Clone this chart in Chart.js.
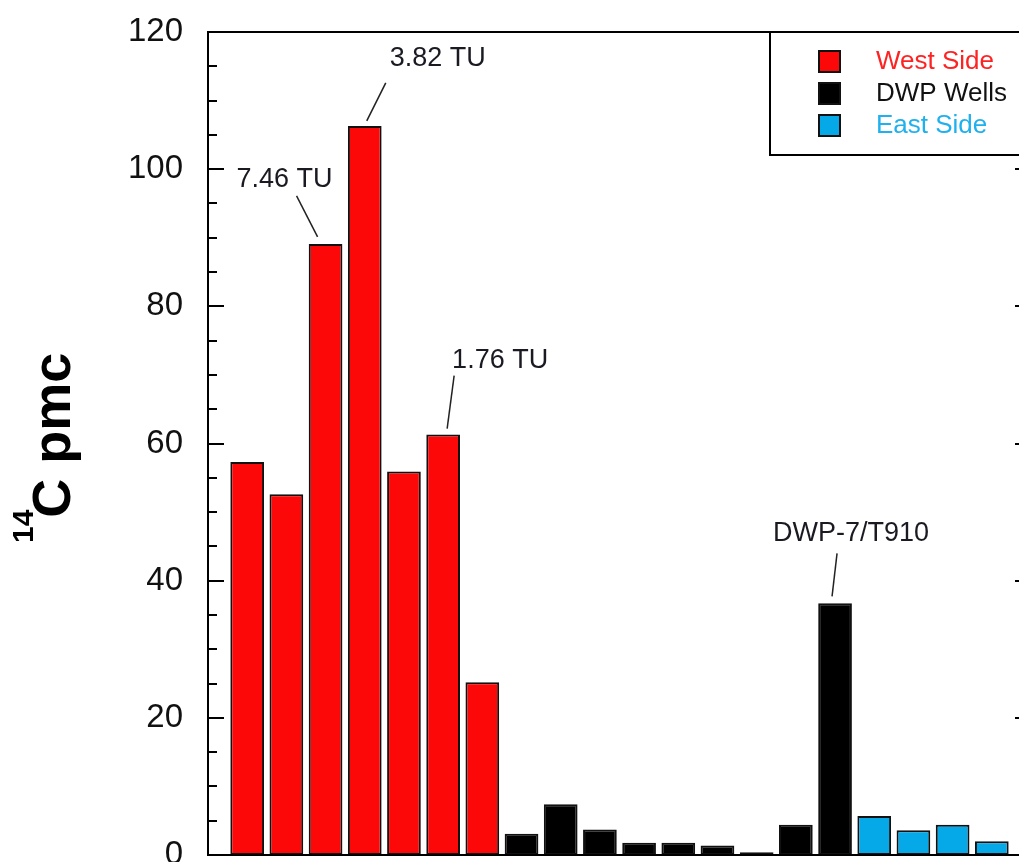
<!DOCTYPE html>
<html>
<head>
<meta charset="utf-8">
<script src="https://cdn.jsdelivr.net/npm/chart.js@4.4.1/dist/chart.umd.min.js"></script>
<style>
  html, body { margin: 0; padding: 0; background: #fff; overflow: hidden; }
  canvas { display: block; }
</style>
</head>
<body>
<canvas id="pmcChart" width="1040" height="862"></canvas>
<script>
// Datos (14C en pmc)
const westSide = [57.3, 52.6, 89.1, 106.3, 55.9, 61.3, 25.2];
const dwpWells = [3.1, 7.4, 3.7, 1.8, 1.8, 1.4, 0.4, 4.4, 36.7];
const eastSide = [5.7, 3.6, 4.4, 2.0];

const groupNames = ["West Side", "DWP Wells", "East Side"];
const yTicks = [0, 20, 40, 60, 80, 100, 120];

// Anotaciones: texto, grupo y posición dentro del grupo
const callouts = [
  { text: "7.46 TU", group: 0, index: 2 },
  { text: "3.82 TU", group: 0, index: 3 },
  { text: "1.76 TU", group: 0, index: 5 },
  { text: "DWP-7/T910", group: 1, index: 8 }
];

const FONT = '"Liberation Sans", Arial, sans-serif';
const colors = ["#fc0808", "#000000", "#05a9e8"];
const legendTextColors = ["#ff2222", "#111111", "#1fb0ee"];

// Desplazamientos de las etiquetas respecto a la parte superior de la barra
const calloutLayout = {
  "7.46 TU": { line: [-8, -7, -29, -48], label: [-41, -64] },
  "3.82 TU": { line: [2, -5, 21, -43], label: [73, -67] },
  "1.76 TU": { line: [4, -6, 11, -59], label: [57, -74] },
  "DWP-7/T910": { line: [-3, -7, 2, -50], label: [16, -70] }
};

// Categorías: un hueco al inicio y al final para centrar las barras
const groups = [westSide, dwpWells, eastSide];
const labels = [""];
groups.forEach((g, gi) => g.forEach((_, i) => labels.push(groupNames[gi] + " " + (i + 1))));
labels.push("");

function padIndex(gi, i) {
  let offset = 1;
  for (let k = 0; k < gi; k++) offset += groups[k].length;
  return offset + i;
}

function padSeries(gi) {
  const out = new Array(labels.length).fill(null);
  groups[gi].forEach((v, i) => { out[padIndex(gi, i)] = v; });
  return out;
}

const framePlugin = {
  id: "frame",
  afterDraw(chart) {
    const ctx = chart.ctx;
    const a = chart.chartArea;
    const y = chart.scales.y;
    ctx.save();
    ctx.strokeStyle = "#000";
    ctx.lineWidth = 2;
    ctx.strokeRect(a.left, a.top, a.right - a.left, a.bottom - a.top);

    // Marcas internas mayores y menores en ambos ejes
    for (let v = 0; v <= 120; v += 5) {
      const py = Math.round(y.getPixelForValue(v));
      const len = v % 20 === 0 ? 16 : 9;
      ctx.beginPath();
      ctx.moveTo(a.left, py);
      ctx.lineTo(a.left + len, py);
      ctx.moveTo(a.right, py);
      ctx.lineTo(a.right - len, py);
      ctx.stroke();
    }

    // Leyenda
    const lx = 770, ly = a.top, lh = 123;
    ctx.fillStyle = "#fff";
    ctx.fillRect(lx, ly, chart.width - lx + 10, lh);
    ctx.strokeRect(lx, ly, chart.width - lx + 10, lh);
    const rows = [ly + 29, ly + 61, ly + 93];
    ctx.font = "26px " + FONT;
    ctx.textBaseline = "middle";
    ctx.textAlign = "left";
    groupNames.forEach((name, i) => {
      ctx.fillStyle = colors[i];
      ctx.fillRect(819, rows[i] - 10, 21, 21);
      ctx.strokeStyle = "#111";
      ctx.lineWidth = 2;
      ctx.strokeRect(819, rows[i] - 10, 21, 21);
      ctx.fillStyle = legendTextColors[i];
      ctx.fillText(name, 876, rows[i] + 1);
    });

    // Anotaciones con línea guía
    ctx.font = "27px " + FONT;
    ctx.textAlign = "center";
    ctx.strokeStyle = "#222";
    ctx.lineWidth = 1.5;
    callouts.forEach((c) => {
      const bar = chart.getDatasetMeta(c.group).data[padIndex(c.group, c.index)];
      const lay = calloutLayout[c.text];
      ctx.beginPath();
      ctx.moveTo(bar.x + lay.line[0], bar.y + lay.line[1]);
      ctx.lineTo(bar.x + lay.line[2], bar.y + lay.line[3]);
      ctx.stroke();
      ctx.fillStyle = "#1a1a22";
      ctx.fillText(c.text, bar.x + lay.label[0], bar.y + lay.label[1]);
    });

    // Título del eje Y con superíndice
    ctx.translate(70, 543);
    ctx.rotate(-Math.PI / 2);
    ctx.fillStyle = "#000";
    ctx.textAlign = "left";
    ctx.textBaseline = "alphabetic";
    ctx.font = "bold 30px " + FONT;
    ctx.fillText("14", 0, -37);
    const w14 = ctx.measureText("14").width;
    ctx.font = "bold 54px " + FONT;
    ctx.fillText("C pmc", w14 - 8, 0);
    ctx.restore();
  }
};

new Chart(document.getElementById("pmcChart"), {
  type: "bar",
  data: {
    labels: labels,
    datasets: groupNames.map((name, gi) => ({
      label: name,
      data: padSeries(gi),
      backgroundColor: colors[gi],
      borderColor: "#111",
      borderWidth: 2,
      borderSkipped: false,
      grouped: false,
      categoryPercentage: 1,
      barPercentage: 0.86
    }))
  },
  options: {
    responsive: false,
    animation: false,
    devicePixelRatio: 1,
    layout: { padding: { top: 32, right: 9, bottom: 7, left: 0 } },
    plugins: {
      legend: { display: false },
      tooltip: { enabled: false }
    },
    scales: {
      x: {
        display: false,
        offset: false,
        grid: { display: false }
      },
      y: {
        min: 0,
        max: 120,
        afterFit(scale) {
          scale.width = 208;
          scale.paddingTop = 0;
          scale.paddingBottom = 0;
        },
        afterBuildTicks(scale) { scale.ticks = yTicks.map((v) => ({ value: v })); },
        border: { display: false },
        grid: { display: false, drawTicks: false },
        ticks: {
          padding: 25,
          color: "#111",
          font: { family: FONT, size: 33 }
        }
      }
    }
  },
  plugins: [framePlugin]
});
</script>
</body>
</html>
